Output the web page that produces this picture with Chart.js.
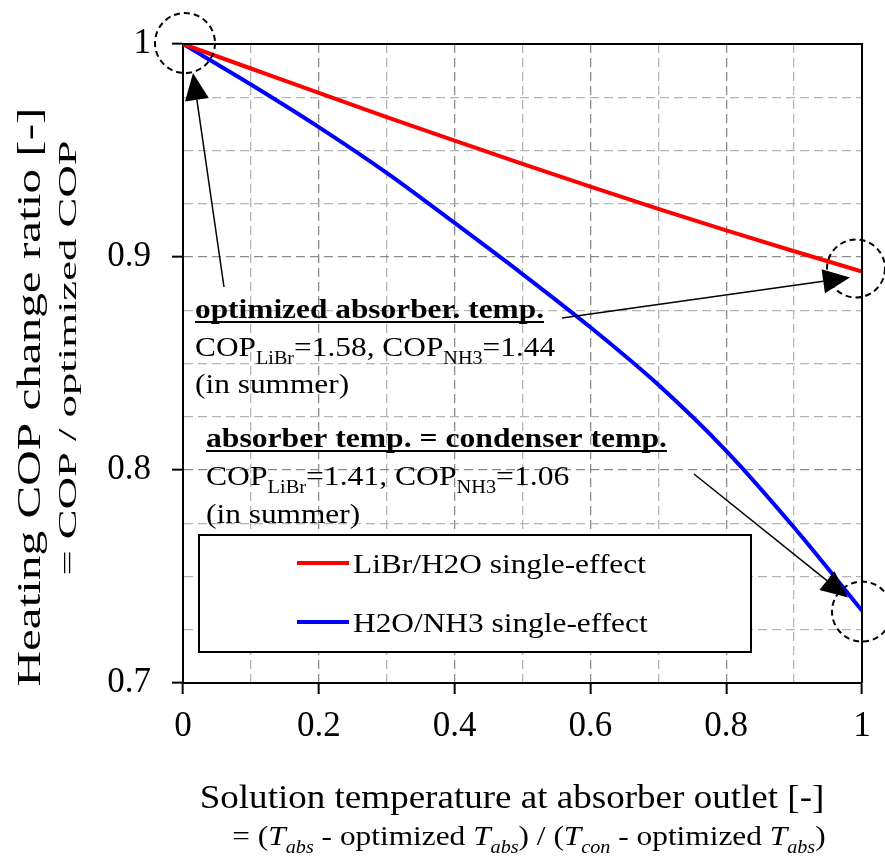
<!DOCTYPE html>
<html>
<head>
<meta charset="utf-8">
<script src="https://cdn.jsdelivr.net/npm/chart.js@4.4.1/dist/chart.umd.min.js"></script>
<style>
  html, body { margin:0; padding:0; background:#fff; }
</style>
</head>
<body>
<canvas id="chart" width="885" height="861"></canvas>
<script>
/* COP change ratio vs. absorber outlet temperature */

const xValues = [0, 0.1, 0.2, 0.3, 0.4, 0.5, 0.6, 0.7, 0.8, 0.9, 1.0];
const librH2O = [1.000, 0.9885, 0.977, 0.9657, 0.9546, 0.9437, 0.933, 0.9226, 0.9125, 0.9027, 0.8932];
const h2oNH3  = [1.000, 0.981, 0.961, 0.9395, 0.916, 0.892, 0.867, 0.840, 0.809, 0.773, 0.734];
const seriesNames = ['LiBr/H2O single-effect', 'H2O/NH3 single-effect'];
const seriesColors = ['#ff0000', '#0000ff'];

const SERIF = '"Liberation Serif", "Times New Roman", serif';

function isMult(v, step){
  const r = v / step;
  return Math.abs(r - Math.round(r)) < 1e-6;
}

// draws a run of text pieces; pieces can be subscript / italic
function rich(ctx, x, y, parts, size, opt){
  opt = opt || {};
  ctx.save();
  ctx.translate(x, y);
  ctx.scale(opt.sx || 1, 1);
  const fontOf = p => (p.i ? 'italic ' : '') + (opt.bold ? 'bold ' : '') +
    (p.sub ? Math.round(size * 0.65) : size) + 'px ' + SERIF;
  let w = 0;
  parts.forEach(p => { ctx.font = fontOf(p); w += ctx.measureText(p.t).width; });
  let cx = opt.align === 'center' ? -w / 2 : 0;
  ctx.fillStyle = '#000';
  ctx.textBaseline = 'alphabetic';
  ctx.textAlign = 'left';
  const start = cx;
  parts.forEach(p => {
    ctx.font = fontOf(p);
    ctx.fillText(p.t, cx, p.sub ? size * 0.3 : 0);
    cx += ctx.measureText(p.t).width;
  });
  if(opt.underline){
    ctx.fillRect(start, 3, w, 2);
  }
  ctx.restore();
}

function arrow(ctx, x1, y1, x2, y2){
  const ang = Math.atan2(y2 - y1, x2 - x1);
  const hl = 27, hw = 12;
  const bx = x2 - hl * Math.cos(ang), by = y2 - hl * Math.sin(ang);
  ctx.save();
  ctx.strokeStyle = '#000';
  ctx.fillStyle = '#000';
  ctx.lineWidth = 1.5;
  ctx.beginPath(); ctx.moveTo(x1, y1); ctx.lineTo(bx, by); ctx.stroke();
  ctx.beginPath();
  ctx.moveTo(x2, y2);
  ctx.lineTo(bx + hw * Math.sin(ang), by - hw * Math.cos(ang));
  ctx.lineTo(bx - hw * Math.sin(ang), by + hw * Math.cos(ang));
  ctx.closePath(); ctx.fill();
  ctx.restore();
}

function ring(ctx, x, y, r){
  ctx.save();
  ctx.strokeStyle = '#000';
  ctx.lineWidth = 2;
  ctx.setLineDash([6, 4]);
  ctx.beginPath(); ctx.arc(x, y, r, 0, Math.PI * 2); ctx.stroke();
  ctx.restore();
}

const notes = {
  id: 'notes',
  beforeDatasetsDraw(chart){
    const ctx = chart.ctx;
    // annotation texts
    rich(ctx, 195, 318, [{t:'optimized absorber. temp.'}], 28, {bold:true, underline:true, sx:1.12});
    rich(ctx, 195, 356, [{t:'COP'},{t:'LiBr',sub:true},{t:'=1.58, COP'},{t:'NH3',sub:true},{t:'=1.44'}], 28, {sx:1.12});
    rich(ctx, 195, 393, [{t:'(in summer)'}], 28, {sx:1.12});
    rich(ctx, 206, 447, [{t:'absorber temp. = condenser temp.'}], 28, {bold:true, underline:true, sx:1.13});
    rich(ctx, 206, 485, [{t:'COP'},{t:'LiBr',sub:true},{t:'=1.41, COP'},{t:'NH3',sub:true},{t:'=1.06'}], 28, {sx:1.13});
    rich(ctx, 206, 523, [{t:'(in summer)'}], 28, {sx:1.12});

    // legend box
    ctx.save();
    ctx.fillStyle = '#fff';
    ctx.fillRect(199, 535, 552, 117);
    ctx.strokeStyle = '#000';
    ctx.lineWidth = 2;
    ctx.strokeRect(199, 535, 552, 117);
    chart.data.datasets.forEach((ds, i) => {
      const y = 563 + i * 59;
      ctx.strokeStyle = ds.borderColor;
      ctx.lineWidth = 4;
      ctx.beginPath(); ctx.moveTo(297, y); ctx.lineTo(349, y); ctx.stroke();
      rich(ctx, 353, y + 10, [{t: ds.label}], 28, {sx:1.12});
    });
    ctx.restore();
  },
  afterDatasetsDraw(chart){
    const ctx = chart.ctx;
    const xs = chart.scales.x, ys = chart.scales.y;
    const n = xValues.length - 1;
    const p0 = {x: xs.getPixelForValue(xValues[0]), y: ys.getPixelForValue(librH2O[0])};
    const pR = {x: xs.getPixelForValue(xValues[n]), y: ys.getPixelForValue(librH2O[n])};
    const pB = {x: xs.getPixelForValue(xValues[n]), y: ys.getPixelForValue(h2oNH3[n])};
    ring(ctx, p0.x + 2, p0.y - 1, 30);
    ring(ctx, pR.x - 6, pR.y - 3, 29);
    ring(ctx, pB.x, pB.y + 1, 30);
    arrow(ctx, 224, 287, p0.x + 10, p0.y + 29);
    arrow(ctx, 562, 318, pR.x - 12, pR.y + 6);
    arrow(ctx, 694, 474, pB.x - 14, pB.y - 13);
  },
  afterDraw(chart){
    const ctx = chart.ctx;
    const a = chart.chartArea;
    ctx.save();
    ctx.strokeStyle = '#000';
    ctx.lineWidth = 2;
    ctx.beginPath();
    ctx.moveTo(a.left, a.top); ctx.lineTo(a.right, a.top); ctx.lineTo(a.right, a.bottom);
    ctx.stroke();
    ctx.restore();

    // x axis titles
    rich(ctx, 512, 808, [{t:'Solution temperature at absorber outlet [-]'}], 34, {align:'center', sx:1.09});
    rich(ctx, 529, 845, [
      {t:'= ('},{t:'T',i:true},{t:'abs',i:true,sub:true},{t:' - optimized '},{t:'T',i:true},{t:'abs',i:true,sub:true},
      {t:') / ('},{t:'T',i:true},{t:'con',i:true,sub:true},{t:' - optimized '},{t:'T',i:true},{t:'abs',i:true,sub:true},{t:')'}
    ], 28, {align:'center', sx:1.12});

    // y axis titles (rotated)
    ctx.save();
    ctx.translate(40, 397);
    ctx.rotate(-Math.PI / 2);
    rich(ctx, 0, 0, [{t:'Heating COP change ratio [-]'}], 33, {align:'center', sx:1.49});
    ctx.restore();
    ctx.save();
    ctx.translate(76, 358);
    ctx.rotate(-Math.PI / 2);
    rich(ctx, 0, 0, [{t:'= COP / optimized COP'}], 26, {align:'center', sx:1.72});
    ctx.restore();
  }
};

const gridMajorX = ctx => isMult(ctx.tick.value, 0.2);
const gridMajorY = ctx => isMult(ctx.tick.value, 0.1);

new Chart(document.getElementById('chart').getContext('2d'), {
  type: 'line',
  data: {
    datasets: [
      { label: seriesNames[0], data: xValues.map((x, i) => ({x, y: librH2O[i]})),
        borderColor: seriesColors[0], borderWidth: 4, pointRadius: 0,
        cubicInterpolationMode: 'monotone', fill: false },
      { label: seriesNames[1], data: xValues.map((x, i) => ({x, y: h2oNH3[i]})),
        borderColor: seriesColors[1], borderWidth: 4, pointRadius: 0,
        cubicInterpolationMode: 'monotone', fill: false }
    ]
  },
  options: {
    responsive: false,
    devicePixelRatio: 1,
    animation: false,
    layout: { padding: { left: 0, top: 44, right: 23, bottom: 0 } },
    plugins: { legend: { display: false }, tooltip: { enabled: false } },
    scales: {
      x: {
        type: 'linear', min: 0, max: 1,
        afterFit: s => { s.height = 178; },
        ticks: {
          stepSize: 0.1, autoSkip: false, maxRotation: 0, padding: 12,
          color: '#000', font: { family: SERIF, size: 35 },
          callback: v => isMult(v, 0.2) ? String(Math.round(v * 10) / 10) : ''
        },
        grid: {
          color: c => gridMajorX(c) ? '#8a8a8a' : '#b4b4b4',
          lineWidth: 1.3,
          tickColor: c => gridMajorX(c) ? '#000' : 'rgba(0,0,0,0)',
          tickLength: 11, tickWidth: 2
        },
        border: { color: '#000', width: 2, dash: [9, 5] }
      },
      y: {
        min: 0.7, max: 1,
        afterFit: s => { s.width = 183; },
        ticks: {
          stepSize: 0.025, autoSkip: false, padding: 21,
          color: '#000', font: { family: SERIF, size: 35 },
          callback: v => isMult(v, 0.1) ? String(Math.round(v * 10) / 10) : ''
        },
        grid: {
          color: c => gridMajorY(c) ? '#8a8a8a' : '#b4b4b4',
          lineWidth: 1.3,
          tickColor: c => gridMajorY(c) ? '#000' : 'rgba(0,0,0,0)',
          tickLength: 11, tickWidth: 2
        },
        border: { color: '#000', width: 2, dash: [9, 5] }
      }
    }
  },
  plugins: [notes]
});
</script>
</body>
</html>
